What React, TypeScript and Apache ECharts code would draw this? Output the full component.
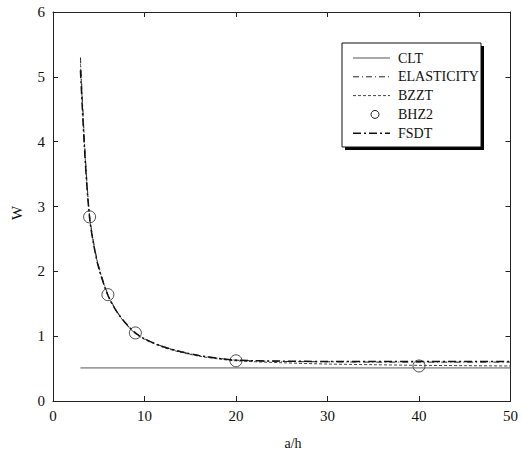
import React, { useEffect, useRef } from "react";
import * as echarts from "echarts";

const xTicks = [0, 10, 20, 30, 40, 50];
const yTicks = [0, 1, 2, 3, 4, 5, 6];

const cltX = [3, 50];
const cltW = [0.51, 0.51];

const curveX = [3, 3.5, 4, 4.5, 5, 6, 7, 8, 9, 10, 12, 14, 16, 18, 20, 25, 30, 35, 40, 45, 50];
const elasticityW = [5.3, 3.85, 2.86, 2.4, 2.08, 1.64, 1.38, 1.19, 1.05, 0.96, 0.84, 0.76, 0.7, 0.66, 0.63, 0.61, 0.605, 0.6, 0.6, 0.6, 0.6];
const bzztW = [5.2, 3.8, 2.84, 2.38, 2.06, 1.63, 1.37, 1.18, 1.04, 0.95, 0.83, 0.75, 0.69, 0.65, 0.62, 0.59, 0.57, 0.56, 0.55, 0.545, 0.54];
const fsdtW = [5.1, 3.75, 2.82, 2.37, 2.05, 1.63, 1.37, 1.19, 1.05, 0.96, 0.84, 0.76, 0.7, 0.66, 0.63, 0.615, 0.61, 0.61, 0.61, 0.61, 0.61];

const bhz2X = [4, 6, 9, 20, 40];
const bhz2W = [2.84, 1.64, 1.05, 0.62, 0.54];

const legendNames = ["CLT", "ELASTICITY", "BZZT", "BHZ2", "FSDT"];

const pairs = (xs: number[], ys: number[]) => xs.map((x, i) => [x, ys[i]]);

const FONT = "'Times New Roman', 'Liberation Serif', 'DejaVu Serif', serif";

export default function App() {
  const ref = useRef<HTMLDivElement>(null);
  useEffect(() => {
    if (!ref.current) return;
    const chart = echarts.init(ref.current, null, { renderer: "svg" });
    const axisCommon = {
      type: "value" as const,
      axisLine: { show: true, onZero: false, lineStyle: { color: "#222", width: 1 } },
      axisTick: { show: true, inside: true, length: 5, lineStyle: { color: "#222" } },
      splitLine: { show: false },
    };
    const legendTop = 58;
    const legendStep = 18.8;
    const dashes: any[] = [
      { type: "solid", color: "#555", width: 1 },
      { type: [6, 3, 1, 3], color: "#222", width: 1 },
      { type: [3, 2], color: "#444", width: 1 },
      null,
      { type: [8, 3, 2, 3], color: "#111", width: 1.5 },
    ];
    const legendGraphics: any[] = [
      {
        type: "rect",
        shape: { x: 345, y: 46, width: 139, height: 104 },
        style: { fill: "#000" },
        silent: true,
      },
      {
        type: "rect",
        shape: { x: 342, y: 43, width: 139, height: 104 },
        style: { fill: "#fff", stroke: "#111", lineWidth: 1 },
        silent: true,
      },
    ];
    legendNames.forEach((name, i) => {
      const y = legendTop + i * legendStep;
      if (dashes[i]) {
        legendGraphics.push({
          type: "line",
          shape: { x1: 353, y1: y, x2: 390, y2: y },
          style: { stroke: dashes[i].color, lineWidth: dashes[i].width, lineDash: dashes[i].type === "solid" ? null : dashes[i].type },
          silent: true,
        });
      } else {
        legendGraphics.push({
          type: "circle",
          shape: { cx: 375, cy: y, r: 4 },
          style: { fill: "none", stroke: "#222", lineWidth: 1 },
          silent: true,
        });
      }
      legendGraphics.push({
        type: "text",
        x: 398,
        y: y,
        style: { text: name, fontSize: 14, fontFamily: FONT, fill: "#111", verticalAlign: "middle", align: "left" },
        silent: true,
      });
    });
    chart.setOption({
      animation: false,
      backgroundColor: "#fff",
      textStyle: { fontFamily: FONT },
      grid: { left: 53, right: 8, top: 12, bottom: 50, containLabel: false },
      xAxis: [
        {
          ...axisCommon,
          position: "bottom",
          min: 0,
          max: 50,
          interval: 10,
          axisLabel: { show: true, margin: 7, color: "#111", fontSize: 15, fontFamily: FONT },
        },
        {
          ...axisCommon,
          position: "top",
          min: 0,
          max: 50,
          interval: 10,
          axisLabel: { show: false },
        },
      ],
      yAxis: [
        {
          ...axisCommon,
          position: "left",
          min: 0,
          max: 6,
          interval: 1,
          axisLabel: { show: true, margin: 8, color: "#111", fontSize: 15, fontFamily: FONT },
        },
        {
          ...axisCommon,
          position: "right",
          min: 0,
          max: 6,
          interval: 1,
          axisLabel: { show: false },
        },
      ],
      series: [
        {
          name: "CLT",
          type: "line",
          data: pairs(cltX, cltW),
          showSymbol: false,
          lineStyle: { color: "#555", width: 1 },
        },
        {
          name: "ELASTICITY",
          type: "line",
          smooth: 0.3,
          data: pairs(curveX, elasticityW),
          showSymbol: false,
          lineStyle: { color: "#222", width: 1, type: [6, 3, 1, 3] },
        },
        {
          name: "BZZT",
          type: "line",
          smooth: 0.3,
          data: pairs(curveX, bzztW),
          showSymbol: false,
          lineStyle: { color: "#444", width: 1, type: [3, 2] },
        },
        {
          name: "BHZ2",
          type: "scatter",
          data: pairs(bhz2X, bhz2W),
          symbol: "circle",
          symbolSize: 12,
          itemStyle: { color: "rgba(0,0,0,0)", borderColor: "#222", borderWidth: 1 },
        },
        {
          name: "FSDT",
          type: "line",
          smooth: 0.3,
          data: pairs(curveX, fsdtW),
          showSymbol: false,
          lineStyle: { color: "#111", width: 1.5, type: [8, 3, 2, 3] },
        },
      ],
      graphic: [
        ...legendGraphics,
        {
          type: "text",
          x: 293,
          y: 443,
          style: { text: "a/h", fontSize: 14, fontFamily: FONT, fill: "#111", align: "center", verticalAlign: "middle" },
          silent: true,
        },
        {
          type: "text",
          x: 17,
          y: 213,
          rotation: Math.PI / 2,
          style: { text: "W", fontSize: 15, fontFamily: FONT, fill: "#111", align: "center", verticalAlign: "middle" },
          silent: true,
        },
      ],
    });
    return () => chart.dispose();
  }, []);
  return <div ref={ref} style={{ width: 521, height: 451, position: "absolute", left: 0, top: 0 }} />;
}
